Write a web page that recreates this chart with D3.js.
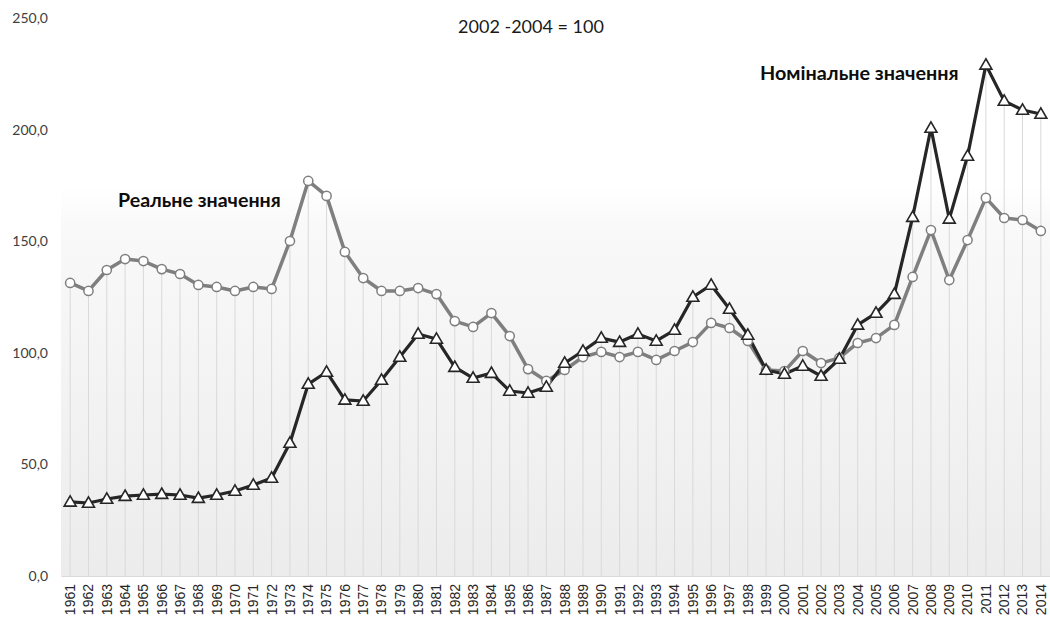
<!DOCTYPE html>
<html>
<head>
<meta charset="utf-8">
<script src="https://cdn.jsdelivr.net/npm/d3@7"></script>
<style>
  html, body { margin: 0; padding: 0; background: #ffffff; }
  svg { display: block; font-family: Lato, "Open Sans", "Noto Sans", sans-serif; }
</style>
</head>
<body>
<svg id="chart" width="1050" height="620"></svg>
<script>
// Price index, 2002-2004 = 100
const years = d3.range(1961, 2015).map(String);

const nominal = [
  33.2, 32.7, 34.5, 35.8, 36.3, 36.7, 36.3, 34.9, 36.3, 38.1,
  40.8, 43.9, 59.6, 86.0, 91.4, 78.9, 78.4, 87.8, 98.1, 108.4,
  106.2, 93.6, 88.7, 90.9, 82.9, 82.0, 84.7, 95.4, 100.8, 106.6,
  104.8, 108.4, 105.3, 110.2, 125.0, 130.4, 119.6, 108.0, 92.3, 90.5,
  94.1, 89.6, 97.2, 112.5, 117.8, 126.3, 160.8, 200.7, 160.0, 188.2,
  229.0, 212.8, 208.8, 207.0
];

const real = [
  131.3, 127.7, 137.1, 142.0, 141.1, 137.5, 135.3, 130.4, 129.5, 127.7,
  129.5, 128.6, 150.1, 177.0, 170.3, 145.2, 133.5, 127.7, 127.7, 129.0,
  126.3, 114.2, 111.6, 117.8, 107.5, 92.7, 87.4, 92.3, 98.1, 100.4,
  98.1, 100.4, 96.8, 100.8, 104.8, 113.4, 111.1, 105.3, 92.3, 91.8,
  100.8, 95.4, 97.7, 104.4, 106.6, 112.5, 134.0, 155.0, 132.6, 150.5,
  169.4, 160.4, 159.5, 154.6
];

const yTicks = [0, 50, 100, 150, 200, 250];

const titleText = "2002 -2004 = 100";
const realLabel = "Реальне значення";
const nominalLabel = "Номінальне значення";

const svg = d3.select("#chart");
const margin = { top: 18, right: 0, bottom: 44, left: 61 };
const width = 1050, height = 620;
const plotW = width - margin.left - margin.right;
const plotH = height - margin.top - margin.bottom;

const x = d3.scaleBand().domain(years).range([margin.left, margin.left + plotW]).padding(0);
const y = d3.scaleLinear().domain([0, 250]).range([margin.top + plotH, margin.top]);
const cx = d => x(d) + x.bandwidth() / 2;

// plot area fill: white fading to light grey toward the baseline
const defs = svg.append("defs");
const grad = defs.append("linearGradient")
  .attr("id", "plotFill").attr("x1", 0).attr("y1", 0).attr("x2", 0).attr("y2", 1);
grad.append("stop").attr("offset", "0").attr("stop-color", "#ffffff");
grad.append("stop").attr("offset", "0.30").attr("stop-color", "#ffffff");
grad.append("stop").attr("offset", "0.37").attr("stop-color", "#f9f9f9");
grad.append("stop").attr("offset", "1").attr("stop-color", "#ececec");

svg.append("rect")
  .attr("x", margin.left).attr("y", margin.top)
  .attr("width", plotW).attr("height", plotH)
  .attr("fill", "url(#plotFill)");

// drop lines from the higher of the two series down to the axis
svg.append("g")
  .selectAll("line")
  .data(years)
  .join("line")
  .attr("x1", d => cx(d)).attr("x2", d => cx(d))
  .attr("y1", (d, i) => y(Math.max(nominal[i], real[i])))
  .attr("y2", y(0))
  .attr("stroke", "#d9d9d9").attr("stroke-width", 1);

// y axis (labels only)
const yAxis = d3.axisLeft(y)
  .tickValues(yTicks)
  .tickSize(0)
  .tickPadding(13)
  .tickFormat(d => d3.format(".1f")(d).replace(".", ","));
const gy = svg.append("g").attr("transform", `translate(${margin.left},0)`).call(yAxis);
gy.select(".domain").remove();
gy.selectAll("text").attr("font-size", 14).attr("fill", "#404040")
  .attr("font-family", "Lato, sans-serif");

// x axis
const xAxis = d3.axisBottom(x).tickSize(0).tickPadding(0);
const gx = svg.append("g").attr("transform", `translate(0,${y(0)})`).call(xAxis);
gx.select(".domain").attr("stroke", "#d9d9d9").attr("stroke-width", 1);
gx.selectAll("text")
  .attr("font-size", 14).attr("fill", "#262626")
  .attr("text-anchor", "end")
  .attr("dy", "0.35em")
  .attr("transform", "translate(0,8) rotate(-90)")
  .attr("x", 0).attr("y", 0);

// series lines
const line = data => d3.line()
  .x((d, i) => cx(years[i]))
  .y(d => y(d))(data);

svg.append("path")
  .attr("d", line(real))
  .attr("fill", "none").attr("stroke", "#7f7f7f").attr("stroke-width", 3.5)
  .attr("stroke-linejoin", "round");

svg.append("path")
  .attr("d", line(nominal))
  .attr("fill", "none").attr("stroke", "#262626").attr("stroke-width", 3.2)
  .attr("stroke-linejoin", "round");

// markers
svg.append("g").selectAll("circle")
  .data(real)
  .join("circle")
  .attr("cx", (d, i) => cx(years[i]))
  .attr("cy", d => y(d))
  .attr("r", 4.6)
  .attr("fill", "#ffffff").attr("stroke", "#7f7f7f").attr("stroke-width", 1.5);

const tri = d3.symbol().type(d3.symbolTriangle).size(62);
svg.append("g").selectAll("path")
  .data(nominal)
  .join("path")
  .attr("d", tri)
  .attr("transform", (d, i) => `translate(${cx(years[i])},${y(d) + 0.8})`)
  .attr("fill", "#ffffff").attr("stroke", "#262626").attr("stroke-width", 1.6)
  .attr("stroke-linejoin", "miter");

// title and series labels
svg.append("text")
  .attr("x", 531).attr("y", 33)
  .attr("text-anchor", "middle")
  .attr("font-size", 18).attr("fill", "#1a1a1a")
  .text(titleText);

svg.append("text")
  .attr("x", 118).attr("y", 207)
  .attr("font-size", 19.6).attr("font-weight", "bold").attr("fill", "#0d0d0d")
  .text(realLabel);

svg.append("text")
  .attr("x", 760).attr("y", 80)
  .attr("font-size", 19.8).attr("font-weight", "bold").attr("fill", "#0d0d0d")
  .text(nominalLabel);
</script>
</body>
</html>
